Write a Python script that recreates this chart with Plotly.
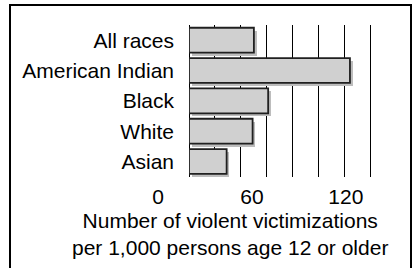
import plotly.graph_objects as go

# ---- data ----
CATEGORIES = ["All races", "American Indian", "Black", "White", "Asian"]
RATES = [50, 124, 61, 49, 29]
X_TICK_VALUES = [0, 60, 120]
X_TICK_TEXT = ["0", "60", "120"]
AXIS_TITLE = "Number of violent victimizations<br>per 1,000 persons age 12 or older"

FONT = "Liberation Sans, Arial, sans-serif"
FS = 21
W, H = 416, 268
PLOT_LEFT = 189          # px where value 0 sits on the bar scale
L, R, T, B = 140, 44, 25, 91
X_RANGE = [0, 141]
BAR_W = 0.82
SHADOW_DX = 2.2      # data units (~3 px)
SHADOW_DY = 0.10     # category units (~3 px)

paper_w = W - L - R
paper_h = H - T - B
x_dom0 = (PLOT_LEFT - L) / paper_w

fig = go.Figure()

# shadow
fig.add_trace(go.Bar(
    y=CATEGORIES, x=RATES, base=SHADOW_DX, orientation="h",
    width=BAR_W, offset=-BAR_W / 2 + SHADOW_DY,
    marker=dict(color="#bdbdbd", line=dict(width=0)),
    hoverinfo="skip", showlegend=False,
))
# bars
fig.add_trace(go.Bar(
    y=CATEGORIES, x=RATES, orientation="h",
    width=BAR_W, offset=-BAR_W / 2,
    marker=dict(color="#d0d0d0", line=dict(color="#202020", width=1.8)),
    showlegend=False,
))
# carrier for the label axis
fig.add_trace(go.Scatter(
    x=X_TICK_VALUES, y=[CATEGORIES[0]] * len(X_TICK_VALUES), xaxis="x2", yaxis="y",
    mode="markers", marker=dict(opacity=0), hoverinfo="skip", showlegend=False,
))

# tick-label axis: label "0" sits at 158 px, 1.565 px per unit
lab0, lab_scale = 158.0, 1.565
x2_range = [(L - lab0) / lab_scale, (W - R - lab0) / lab_scale]

fig.update_layout(
    width=W, height=H,
    margin=dict(l=L, r=R, t=T, b=B, pad=0, autoexpand=False),
    paper_bgcolor="white", plot_bgcolor="rgba(0,0,0,0)",
    barmode="overlay", bargap=0,
    font=dict(family=FONT, size=FS, color="black"),
    xaxis=dict(
        domain=[x_dom0, 1], anchor="y",
        range=X_RANGE, dtick=20, tick0=0,
        showgrid=True, gridcolor="black", gridwidth=1,
        zeroline=True, zerolinecolor="black", zerolinewidth=1,
        showticklabels=False, ticks="", showline=False, automargin=False,
    ),
    xaxis2=dict(
        domain=[0, 1], anchor="y", side="bottom",
        range=x2_range, tickvals=X_TICK_VALUES, ticktext=X_TICK_TEXT,
        showgrid=False, zeroline=False, showline=False, ticks="",
        ticklabelstandoff=5, automargin=False,
        tickfont=dict(family=FONT, size=FS, color="black"),
    ),
    yaxis=dict(
        anchor="x", autorange="reversed", showgrid=False, zeroline=False,
        showline=False, ticks="", ticklabelstandoff=14, automargin=False,
        tickfont=dict(family=FONT, size=FS, color="black"),
    ),
    annotations=[dict(
        text=AXIS_TITLE, xref="paper", yref="paper",
        x=(230 - L) / paper_w, y=(H - B - 234) / paper_h,
        xanchor="center", yanchor="middle", showarrow=False,
        font=dict(family=FONT, size=FS, color="black"),
    )],
    shapes=[dict(
        type="rect", xref="paper", yref="paper",
        x0=(10 - L) / paper_w, x1=(411 - L) / paper_w,
        y0=(H - B - 300) / paper_h, y1=(H - B - 5) / paper_h,
        line=dict(color="black", width=2), layer="above",
    )],
)

fig.write_html(
    "out.html",
    config={"displayModeBar": False, "staticPlot": True},
    post_script="document.body.style.margin='0';document.body.style.overflow='hidden';",
)
